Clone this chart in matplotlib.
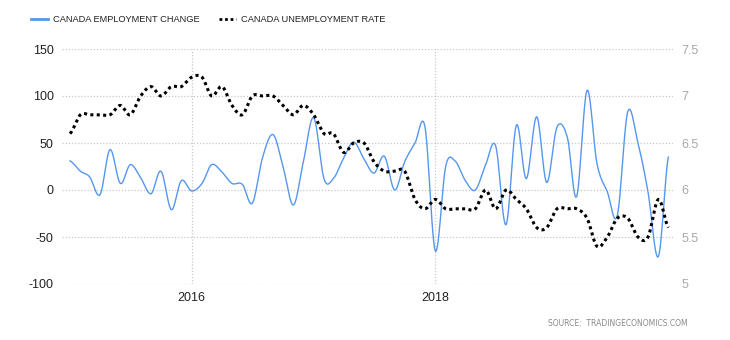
import numpy as np
import pandas as pd
import matplotlib
matplotlib.use("Agg")
import matplotlib.pyplot as plt
import matplotlib.dates as mdates

# ---- data ----
months = pd.date_range("2015-01-01", "2019-12-01", freq="MS")

employment_change = [
    31, 20, 14, -5, 43, 7, 27, 13, -4, 20, -21, 10,          # 2015
    -1, 7, 27, 19, 7, 6, -14, 35, 59, 25, -16, 30,          # 2016
    77, 12, 12, 34, 51, 33, 18, 36, 0, 30, 50, 67,          # 2017
    -65, 25, 31, 10, 0, 27, 47, -37, 69, 12, 78, 8,         # 2018
    67, 56, -7, 106, 28, -2, -27, 83, 50, -2, -71, 35,      # 2019
]

unemployment_rate = [
    6.6, 6.8, 6.8, 6.8, 6.8, 6.9, 6.8, 7.0, 7.1, 7.0, 7.1, 7.1,   # 2015
    7.2, 7.2, 7.0, 7.1, 6.9, 6.8, 7.0, 7.0, 7.0, 6.9, 6.8, 6.9,   # 2016
    6.8, 6.6, 6.6, 6.4, 6.5, 6.5, 6.3, 6.2, 6.2, 6.2, 5.9, 5.8,   # 2017
    5.9, 5.8, 5.8, 5.8, 5.8, 6.0, 5.8, 6.0, 5.9, 5.8, 5.6, 5.6,   # 2018
    5.8, 5.8, 5.8, 5.7, 5.4, 5.5, 5.7, 5.7, 5.5, 5.5, 5.9, 5.6,   # 2019
]

left_ticks = [-100, -50, 0, 50, 100, 150]
right_ticks = [5, 5.5, 6, 6.5, 7, 7.5]
right_tick_labels = ["5", "5.5", "6", "6.5", "7", "7.5"]
year_ticks = ["2016-01-01", "2018-01-01"]
year_labels = ["2016", "2018"]

label_emp = "CANADA EMPLOYMENT CHANGE"
label_unemp = "CANADA UNEMPLOYMENT RATE"
source_text = "SOURCE:  TRADINGECONOMICS.COM"


def smooth(x, y, n=12):
    """Catmull-Rom rendering of a series for a smooth line."""
    x = np.asarray(x, float)
    y = np.asarray(y, float)
    xp = np.concatenate([[2 * x[0] - x[1]], x, [2 * x[-1] - x[-2]]])
    yp = np.concatenate([[y[0]], y, [y[-1]]])
    xs, ys = [], []
    for i in range(1, len(xp) - 2):
        t = np.linspace(0, 1, n, endpoint=False)
        for arr, out in ((xp, xs), (yp, ys)):
            p0, p1, p2, p3 = arr[i - 1], arr[i], arr[i + 1], arr[i + 2]
            out.append(0.5 * ((2 * p1) + (-p0 + p2) * t
                              + (2 * p0 - 5 * p1 + 4 * p2 - p3) * t ** 2
                              + (-p0 + 3 * p1 - 3 * p2 + p3) * t ** 3))
    xs = np.concatenate(xs + [[x[-1]]])
    ys = np.concatenate(ys + [[y[-1]]])
    return xs, ys


plt.rcParams["font.family"] = ["Liberation Sans", "DejaVu Sans"]

fig = plt.figure(figsize=(7.3, 3.4), dpi=100)
ax = fig.add_axes([62 / 730, 1 - 284 / 340, 611 / 730, 235 / 340])
ax2 = ax.twinx()

xnum = mdates.date2num(months)
xe, ye = smooth(xnum, employment_change)
xu, yu = smooth(xnum, unemployment_rate)

blue = "#5597ee"
ax.plot(xe, ye, color=blue, lw=1.0, zorder=3)
ax2.plot(xu, yu, color="black", lw=2.2, linestyle=(0, (1, 1.1)), zorder=3)

ax.set_xlim(xnum[0] - 24, xnum[-1] + 14)
ax.set_ylim(-100, 150)
ax2.set_ylim(5, 7.5)

ax.set_yticks(left_ticks)
ax.set_yticklabels([str(v) for v in left_ticks])
ax2.set_yticks(right_ticks)
ax2.set_yticklabels(right_tick_labels)
ax.set_xticks(mdates.date2num(pd.to_datetime(year_ticks)))
ax.set_xticklabels(year_labels)

for a in (ax, ax2):
    for s in a.spines.values():
        s.set_visible(False)

ax.grid(True, axis="both", color="#c8c8c8", linestyle=(0, (1, 1.5)), lw=0.9)
ax.set_axisbelow(True)
ax.tick_params(axis="y", length=0, pad=6, labelsize=9, labelcolor="#222222")
ax.tick_params(axis="x", length=0, pad=6, labelsize=9, labelcolor="#222222")
ax2.tick_params(axis="y", length=0, pad=6, labelsize=9, labelcolor="#a8a8a8")

# legend (drawn manually at top-left)
fig.add_artist(plt.Line2D([31 / 730, 48 / 730], [1 - 19 / 340] * 2,
                          color=blue, lw=2, transform=fig.transFigure))
fig.text(53 / 730, 1 - 19 / 340, label_emp, fontsize=6.7, va="center",
         ha="left", color="#222222")
fig.add_artist(plt.Line2D([219 / 730, 236 / 730], [1 - 19 / 340] * 2,
                          color="black", lw=2, linestyle=(0, (1, 1)),
                          transform=fig.transFigure))
fig.text(241 / 730, 1 - 19 / 340, label_unemp, fontsize=6.7, va="center",
         ha="left", color="#222222")

fig.text(688 / 730, 1 - 324 / 340, source_text, fontsize=5.5, va="center",
         ha="right", color="#8a8a8a", family=["DejaVu Sans"])

fig.savefig("out.png", dpi=100)
